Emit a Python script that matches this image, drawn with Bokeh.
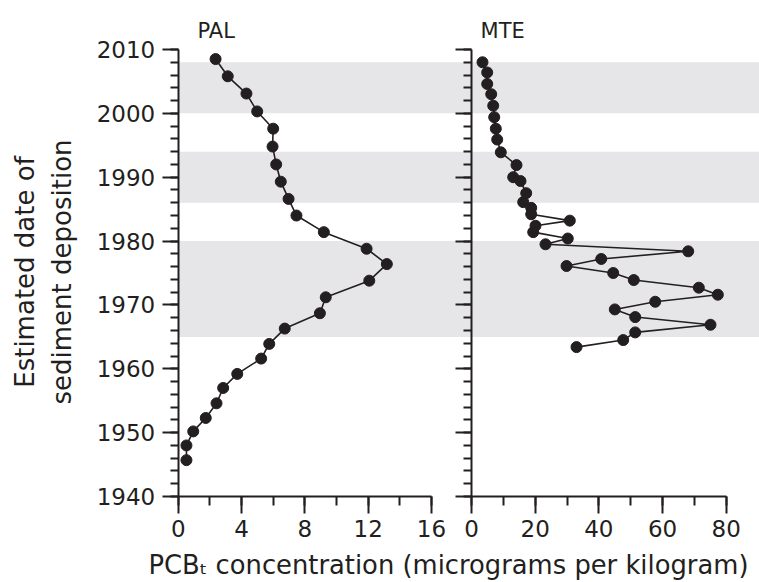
import math
from bokeh.plotting import figure
from bokeh.models import Range1d, LinearAxis, SingleIntervalTicker, BoxAnnotation, Label
from bokeh.embed import file_html
from bokeh.resources import INLINE

# ---- data ----
pal_year = [2008.5, 2005.8, 2003.1, 2000.3, 1997.6, 1994.8, 1992.0, 1989.3, 1986.6, 1984.0,
            1981.4, 1978.8, 1976.4, 1973.8, 1971.2, 1968.7, 1966.3, 1963.9, 1961.6, 1959.2,
            1957.0, 1954.6, 1952.3, 1950.2, 1948.0, 1945.7]
pal_pcb = [2.36, 3.13, 4.31, 4.99, 6.0, 5.96, 6.19, 6.48, 6.97, 7.47,
           9.2, 11.9, 13.18, 12.07, 9.32, 8.95, 6.73, 5.75, 5.24, 3.73,
           2.84, 2.42, 1.74, 0.95, 0.52, 0.52]

mte_year = [2008.0, 2006.4, 2004.6, 2003.0, 2001.2, 1999.4, 1997.6, 1995.9, 1993.9, 1991.9,
            1990.0, 1989.4, 1987.5, 1986.1, 1985.2, 1984.2, 1983.2, 1982.4, 1981.4, 1980.4,
            1979.5, 1978.4, 1977.2, 1976.1, 1975.0, 1973.9, 1972.7, 1971.6, 1970.5, 1969.3,
            1968.1, 1966.9, 1965.7, 1964.5, 1963.4]
mte_pcb = [3.45, 4.93, 4.93, 6.19, 6.82, 7.13, 7.63, 8.07, 9.2, 14.13,
           13.1, 15.39, 17.18, 16.24, 18.75, 18.75, 30.87, 20.1, 19.38, 30.24,
           23.24, 68.06, 40.74, 29.84, 44.5, 50.97, 71.39, 77.36, 57.7, 45.0,
           51.41, 75.06, 51.41, 47.64, 32.98]

band_bottom = [2000, 1986, 1965]
band_top = [2008, 1994, 1980]

panel_names = ["PAL", "MTE"]
y_label_lines = ["Estimated date of", "sediment deposition"]
x_label = "PCB\u209c concentration (micrograms per kilogram)"

FONT = "DejaVu Sans"
INK = "#231f20"

p = figure(width=759, height=582,
           x_range=Range1d(-11.226, 36.72), y_range=Range1d(1926.54, 2017.67),
           output_backend="svg", toolbar_location=None,
           min_border_left=0, min_border_top=0, min_border_right=0, min_border_bottom=0,
           x_axis_location=None, y_axis_location=None)
p.extra_x_ranges = {"mte": Range1d(-147.93, 90.45)}
p.outline_line_color = None
p.xgrid.visible = False
p.ygrid.visible = False
p.background_fill_color = "white"
p.border_fill_color = "white"

for b, t in zip(band_bottom, band_top):
    p.add_layout(BoxAnnotation(left=0, bottom=b, top=t, fill_color="#e6e6e8", fill_alpha=1.0,
                               line_color=None, level="underlay"))

def style_axis(ax, label_size="23px"):
    ax.axis_line_color = INK
    ax.axis_line_width = 2
    ax.major_tick_line_color = INK
    ax.major_tick_line_width = 2
    ax.minor_tick_line_color = INK
    ax.minor_tick_line_width = 2
    ax.major_tick_in = 0
    ax.minor_tick_in = 0
    ax.major_label_text_font = FONT
    ax.major_label_text_font_size = label_size
    ax.major_label_text_color = INK

# left y axis (labelled), fixed at PAL x = 0
yl = LinearAxis(ticker=SingleIntervalTicker(interval=10, num_minor_ticks=5), bounds=(1940, 2010),
                fixed_location=0)
style_axis(yl)
yl.major_tick_out = 16
yl.minor_tick_out = 8
yl.major_label_standoff = 7
p.add_layout(yl, "left")

# right panel y axis (no labels), fixed at MTE x = 0
yr = LinearAxis(ticker=SingleIntervalTicker(interval=10, num_minor_ticks=5), bounds=(1940, 2010),
                x_range_name="mte", fixed_location=0)
style_axis(yr)
yr.major_tick_out = 16
yr.minor_tick_out = 8
yr.major_label_overrides = {v: "" for v in range(1940, 2011, 10)}
p.add_layout(yr, "left")

# left x axis, fixed at the 1940 line
xl = LinearAxis(ticker=SingleIntervalTicker(interval=4, num_minor_ticks=2), bounds=(0, 16),
                fixed_location=1940)
style_axis(xl)
xl.major_tick_out = 17
xl.minor_tick_out = 9
xl.major_label_standoff = 6
p.add_layout(xl, "below")

# right x axis
xr = LinearAxis(ticker=SingleIntervalTicker(interval=20, num_minor_ticks=2), bounds=(0, 80),
                x_range_name="mte", fixed_location=1940)
style_axis(xr)
xr.major_tick_out = 17
xr.minor_tick_out = 9
xr.major_label_standoff = 6
p.add_layout(xr, "below")

# data
p.line(pal_pcb, pal_year, line_color=INK, line_width=1.6)
p.scatter(pal_pcb, pal_year, size=11, fill_color=INK, line_color=INK)
p.line(mte_pcb, mte_year, line_color=INK, line_width=1.6, x_range_name="mte")
p.scatter(mte_pcb, mte_year, size=11, fill_color=INK, line_color=INK, x_range_name="mte")

# panel names
p.add_layout(Label(x=1.22, y=2012.82, text=panel_names[0], text_font=FONT, text_font_size="21px",
                   text_color=INK, text_baseline="middle"))
p.add_layout(Label(x=2.83, y=2012.82, text=panel_names[1], text_font=FONT, text_font_size="21px",
                   text_color=INK, text_baseline="middle", x_range_name="mte"))

# y-axis title (two rotated lines)
for xpos, line in zip([-9.65, -7.31], y_label_lines):
    p.add_layout(Label(x=xpos, y=1975.16, text=line, angle=math.pi / 2, text_font=FONT,
                       text_font_size="26px", text_color=INK, text_baseline="middle",
                       text_align="center"))

# shared x-axis title
p.add_layout(Label(x=-1.876, y=1929.35, text=x_label, text_font=FONT, text_font_size="25.8px",
                   text_color=INK, text_baseline="middle", text_align="left"))

open("out.html", "w").write(file_html(p, INLINE))
